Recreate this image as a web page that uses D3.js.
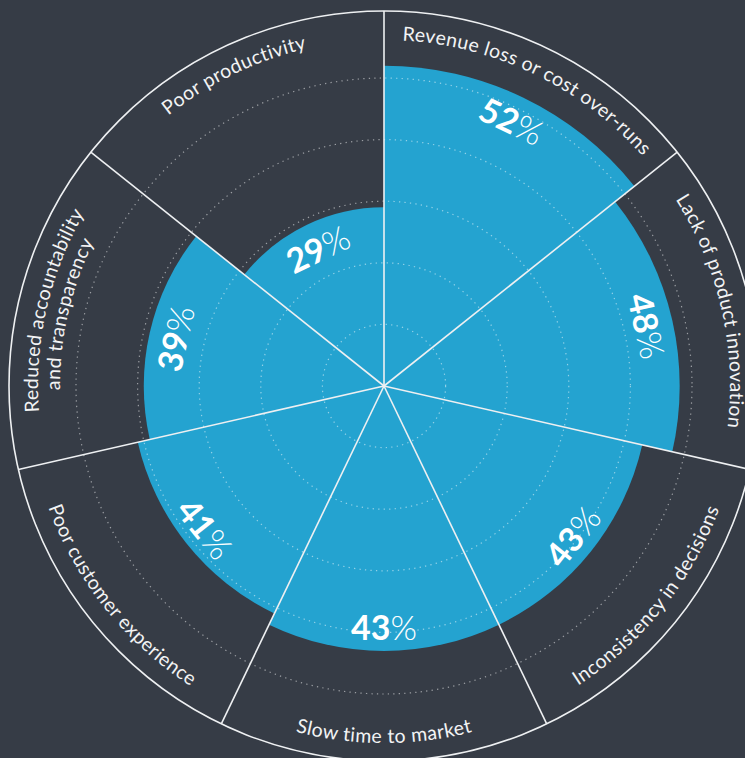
<!DOCTYPE html>
<html><head><meta charset="utf-8">
<script src="https://cdn.jsdelivr.net/npm/d3@7"></script>
<style>
html,body{margin:0;padding:0;background:#363c46;}
svg{display:block;}
</style></head>
<body>
<svg id="chart" width="745" height="758"></svg>
<script>
const categories = [
  ["Revenue loss or cost over-runs"],
  ["Lack of product innovation"],
  ["Inconsistency in decisions"],
  ["Slow time to market"],
  ["Poor customer experience"],
  ["Reduced accountability", "and transparency"],
  ["Poor productivity"]
];
const values = [52, 48, 43, 43, 41, 39, 29];
const gridTicks = [10, 20, 30, 40, 50];

const W = 745, H = 758, cx = 384, cy = 386, R = 375;
const FONT = "Lato, 'Open Sans', sans-serif";
const svg = d3.select("#chart");
svg.append("rect").attr("width", W).attr("height", H).attr("fill", "#363c46");
const g = svg.append("g").attr("transform", `translate(${cx},${cy})`);
const n = values.length;
const angle = d3.scaleBand().domain(d3.range(n)).range([0, 2 * Math.PI]).padding(0);
const r = d3.scaleLinear().domain([0, 50]).range([0, 308]);
const data = values.map((v, i) => {
  const a0 = angle(i), a1 = a0 + angle.bandwidth(), am = (a0 + a1) / 2;
  return {v, i, cat: categories[i], a0, a1, am, flip: am > Math.PI / 2 && am < 3 * Math.PI / 2};
});
const arc = d3.arc().innerRadius(0).outerRadius(d => r(d.v)).startAngle(d => d.a0).endAngle(d => d.a1);

g.selectAll("path.bar").data(data).join("path").attr("class", "bar")
  .attr("d", arc).attr("fill", "#24a3d0");

g.selectAll("circle.grid").data(gridTicks).join("circle").attr("class", "grid")
  .attr("r", d => r(d)).attr("fill", "none")
  .attr("stroke", "#ffffff").attr("stroke-opacity", 0.5)
  .attr("stroke-width", 1.2).attr("stroke-dasharray", "1.3 4.2");

g.selectAll("line.spoke").data(d3.range(n)).join("line").attr("class", "spoke")
  .attr("x1", 0).attr("y1", 0)
  .attr("x2", i => R * Math.sin(angle(i))).attr("y2", i => -R * Math.cos(angle(i)))
  .attr("stroke", "#eef0f2").attr("stroke-width", 1.6);

g.append("circle").attr("r", R).attr("fill", "none")
  .attr("stroke", "#eef0f2").attr("stroke-width", 1.6);

// category labels along arcs
data.forEach(d => {
  d.cat.forEach((line, j) => {
    const rr = d.flip ? 357 + j * 22 : 346 - j * 22;
    const p = a => [rr * Math.sin(a), -rr * Math.cos(a)];
    const [sx, sy] = p(d.flip ? d.a1 : d.a0), [ex, ey] = p(d.flip ? d.a0 : d.a1);
    const id = `lab${d.i}_${j}`;
    g.append("path").attr("id", id).attr("fill", "none").attr("stroke", "none")
      .attr("d", `M${sx},${sy}A${rr},${rr} 0 0 ${d.flip ? 0 : 1} ${ex},${ey}`);
    g.append("text").attr("font-family", FONT).attr("font-size", 19.5)
      .attr("fill", "#f2f3f4").attr("letter-spacing", 0.4)
      .append("textPath").attr("href", `#${id}`)
      .attr("startOffset", "50%").attr("text-anchor", "middle").text(line);
  });
});

// value labels
const vt = g.selectAll("text.val").data(data).join("text").attr("class", "val")
  .attr("transform", d => {
    const rc = r(d.v) - 25;
    const deg = d.am * 180 / Math.PI;
    const rot = d.flip ? deg - 180 : deg;
    return `translate(${rc * Math.sin(d.am)},${-rc * Math.cos(d.am)}) rotate(${rot})`;
  })
  .attr("text-anchor", "middle").attr("dominant-baseline", "central")
  .attr("font-family", FONT).attr("font-size", 34).attr("fill", "#ffffff");
vt.append("tspan").attr("font-weight", 700).text(d => d.v);
vt.append("tspan").attr("font-weight", 300).text("%");
</script>
</body></html>
